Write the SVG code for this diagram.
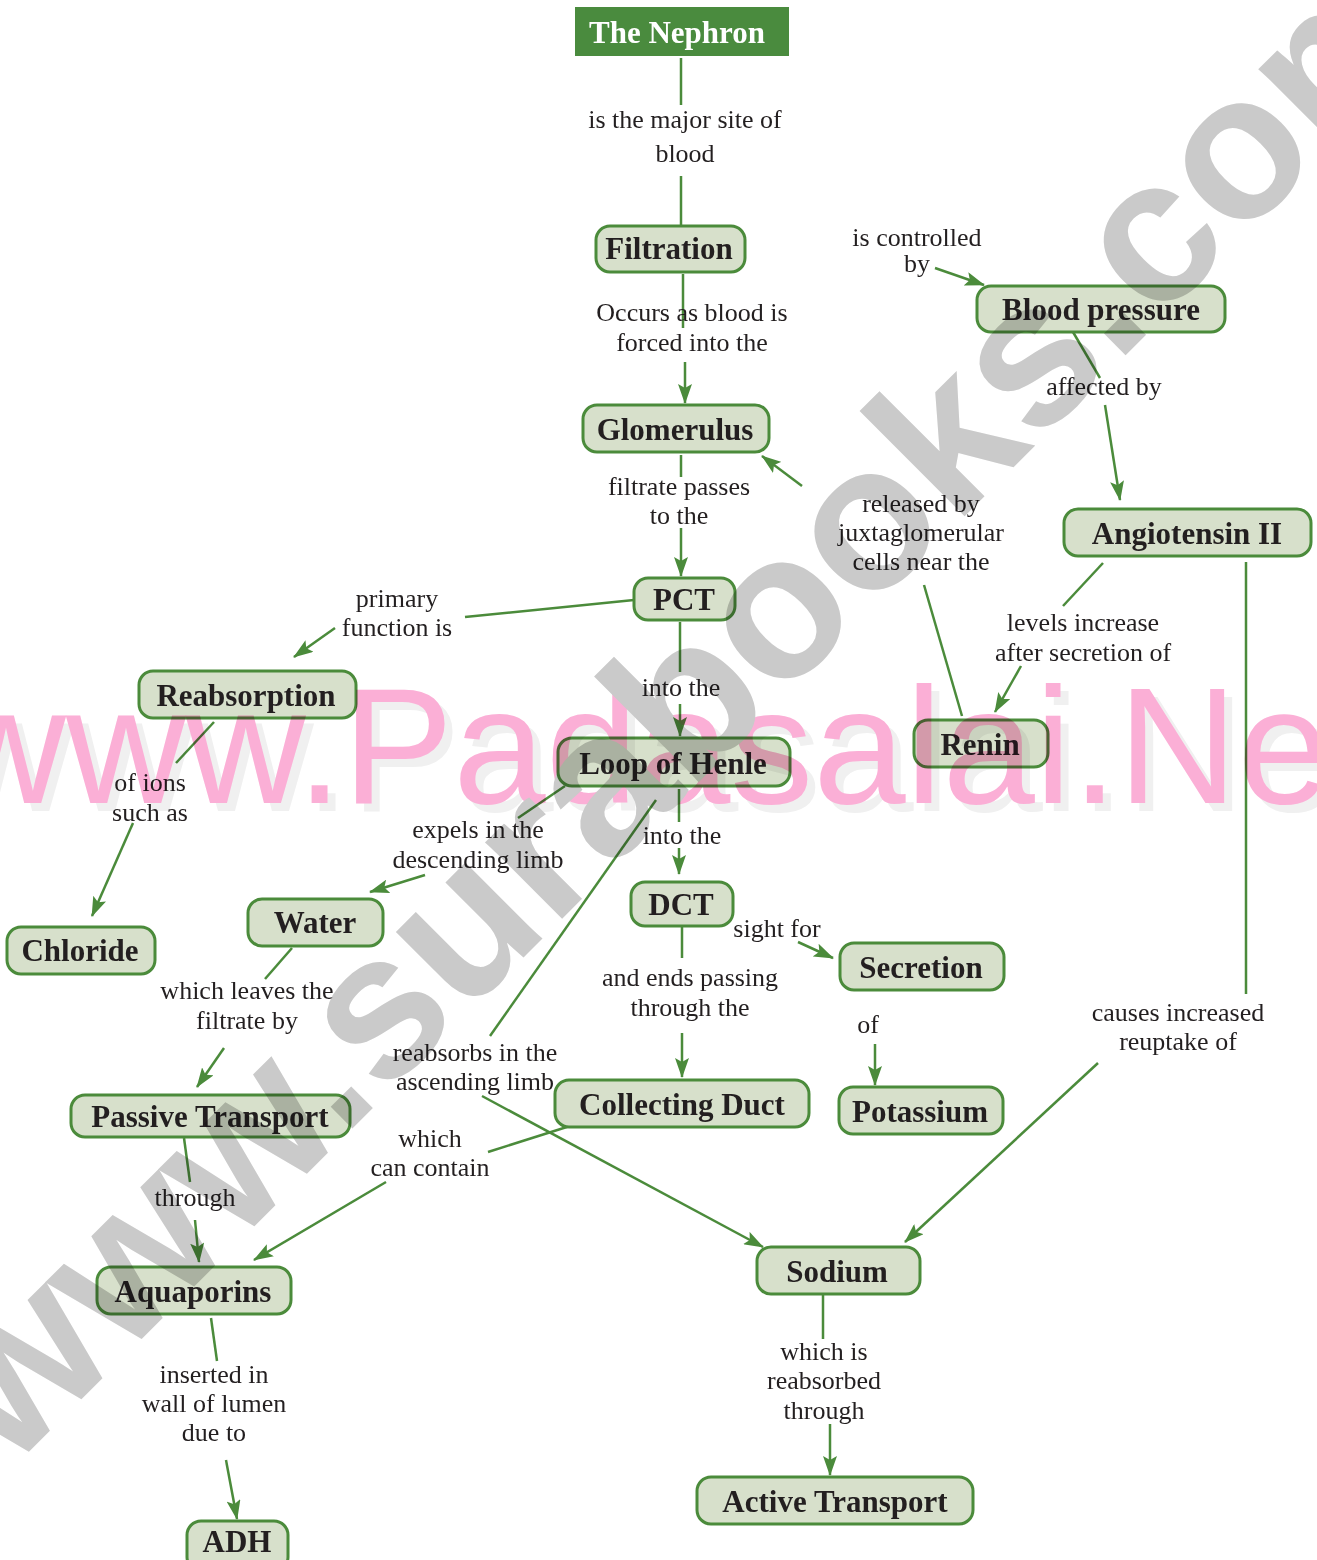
<svg xmlns="http://www.w3.org/2000/svg" width="1317" height="1560" viewBox="0 0 1317 1560">
  <style>
    .nd { fill: #d7e0cb; stroke: #4b8b3b; stroke-width: 3; }
    .nt { font-family: "Liberation Serif", "Times New Roman", serif; font-weight: bold; font-size: 31px; fill: #231f20; text-anchor: middle; }
    .lb { font-family: "Liberation Serif", "Times New Roman", serif; font-size: 26px; fill: #231f20; text-anchor: middle; }
    .cn { stroke: #4b8b3b; stroke-width: 2.5; fill: none; }
    .wm { mix-blend-mode: multiply; }
  </style>
  <defs>
    <marker id="ah" markerUnits="userSpaceOnUse" markerWidth="20" markerHeight="14" refX="19" refY="7" orient="auto">
      <path d="M0,0 L20,7 L0,14 L4,7 z" fill="#4b8b3b"/>
    </marker>
  </defs>
  <rect width="1317" height="1560" fill="#ffffff"/>

  <!-- connectors -->
  <g id="connectors" class="cn">
    <path d="M681,58 V105"/>
    <path d="M681,176 V226"/>
    <path d="M683,274 V328"/>
    <path d="M685,362 V403" marker-end="url(#ah)"/>
    <path d="M681,455 V477"/>
    <path d="M681,528 V576" marker-end="url(#ah)"/>
    <path d="M802,486 L762,456" marker-end="url(#ah)"/>
    <path d="M962,716 L924,585"/>
    <path d="M634,600 L465,617"/>
    <path d="M335,628 L294,657" marker-end="url(#ah)"/>
    <path d="M680,622 V672"/>
    <path d="M680,704 V736" marker-end="url(#ah)"/>
    <path d="M214,722 L176,763"/>
    <path d="M133,823 L92,916" marker-end="url(#ah)"/>
    <path d="M565,786 L518,818"/>
    <path d="M425,875 L370,892" marker-end="url(#ah)"/>
    <path d="M679,789 V822"/>
    <path d="M679,848 V874" marker-end="url(#ah)"/>
    <path d="M656,800 L490,1036"/>
    <path d="M482,1096 L763,1247" marker-end="url(#ah)"/>
    <path d="M682,926 V958"/>
    <path d="M682,1033 V1077" marker-end="url(#ah)"/>
    <path d="M798,942 L833,958" marker-end="url(#ah)"/>
    <path d="M875,1044 V1085" marker-end="url(#ah)"/>
    <path d="M292,948 L265,979"/>
    <path d="M224,1048 L197,1087" marker-end="url(#ah)"/>
    <path d="M184,1138 L190,1182"/>
    <path d="M195,1220 L199,1262" marker-end="url(#ah)"/>
    <path d="M570,1126 L488,1152"/>
    <path d="M386,1182 L254,1260" marker-end="url(#ah)"/>
    <path d="M211,1318 L217,1361"/>
    <path d="M226,1460 L237,1519" marker-end="url(#ah)"/>
    <path d="M1073,332 L1100,378"/>
    <path d="M1105,405 L1120,500" marker-end="url(#ah)"/>
    <path d="M935,268 L984,285" marker-end="url(#ah)"/>
    <path d="M1103,563 L1063,606"/>
    <path d="M1021,666 L995,712" marker-end="url(#ah)"/>
    <path d="M1246,562 V994"/>
    <path d="M1098,1063 L905,1242" marker-end="url(#ah)"/>
    <path d="M823,1290 V1339"/>
    <path d="M830,1424 V1475" marker-end="url(#ah)"/>
  </g>

  <!-- link labels -->
  <g id="labels" class="lb">
    <text x="685" y="128">is the major site of</text>
    <text x="685" y="162">blood</text>
    <text x="917" y="246">is controlled</text>
    <text x="917" y="272">by</text>
    <text x="692" y="321">Occurs as blood is</text>
    <text x="692" y="351">forced into the</text>
    <text x="1104" y="395">affected by</text>
    <text x="679" y="495">filtrate passes</text>
    <text x="679" y="524">to the</text>
    <text x="921" y="512">released by</text>
    <text x="921" y="541">juxtaglomerular</text>
    <text x="921" y="570">cells near the</text>
    <text x="397" y="607">primary</text>
    <text x="397" y="636">function is</text>
    <text x="1083" y="631">levels increase</text>
    <text x="1083" y="661">after secretion of</text>
    <text x="681" y="696">into the</text>
    <text x="150" y="791">of ions</text>
    <text x="150" y="821">such as</text>
    <text x="478" y="838">expels in the</text>
    <text x="478" y="868">descending limb</text>
    <text x="682" y="844">into the</text>
    <text x="777" y="937">sight for</text>
    <text x="690" y="986">and ends passing</text>
    <text x="690" y="1016">through the</text>
    <text x="247" y="999">which leaves the</text>
    <text x="247" y="1029">filtrate by</text>
    <text x="868" y="1033">of</text>
    <text x="1178" y="1021">causes increased</text>
    <text x="1178" y="1050">reuptake of</text>
    <text x="475" y="1061">reabsorbs in the</text>
    <text x="475" y="1090">ascending limb</text>
    <text x="430" y="1147">which</text>
    <text x="430" y="1176">can contain</text>
    <text x="195" y="1206">through</text>
    <text x="824" y="1360">which is</text>
    <text x="824" y="1389">reabsorbed</text>
    <text x="824" y="1419">through</text>
    <text x="214" y="1383">inserted in</text>
    <text x="214" y="1412">wall of lumen</text>
    <text x="214" y="1441">due to</text>
  </g>

  <!-- nodes -->
  <g id="nephron">
    <rect x="575" y="7" width="214" height="49" fill="#4a8b3e"/>
    <text class="nt" x="677" y="43" style="fill:#ffffff">The Nephron</text>
  </g>
  <g id="filtration"><rect class="nd" x="596" y="226" width="149" height="46" rx="14"/><text class="nt" x="669" y="259">Filtration</text></g>
  <g id="glomerulus"><rect class="nd" x="583" y="405" width="186" height="47" rx="14"/><text class="nt" x="675" y="440">Glomerulus</text></g>
  <g id="pct"><rect class="nd" x="634" y="578" width="101" height="42" rx="14"/><text class="nt" x="684" y="610">PCT</text></g>
  <g id="blood-pressure"><rect class="nd" x="977" y="286" width="248" height="46" rx="14"/><text class="nt" x="1101" y="320">Blood pressure</text></g>
  <g id="angiotensin"><rect class="nd" x="1064" y="509" width="247" height="47" rx="14"/><text class="nt" x="1187" y="544">Angiotensin II</text></g>
  <g id="reabsorption"><rect class="nd" x="139" y="671" width="217" height="47" rx="14"/><text class="nt" x="246" y="706">Reabsorption</text></g>
  <g id="loop-of-henle"><rect class="nd" x="558" y="738" width="232" height="48" rx="14"/><text class="nt" x="673" y="774">Loop of Henle</text></g>
  <g id="renin"><rect class="nd" x="914" y="720" width="134" height="47" rx="14"/><text class="nt" x="980" y="755">Renin</text></g>
  <g id="water"><rect class="nd" x="248" y="899" width="135" height="47" rx="14"/><text class="nt" x="315" y="933">Water</text></g>
  <g id="chloride"><rect class="nd" x="7" y="927" width="148" height="47" rx="14"/><text class="nt" x="80" y="961">Chloride</text></g>
  <g id="dct"><rect class="nd" x="631" y="882" width="102" height="44" rx="14"/><text class="nt" x="681" y="915">DCT</text></g>
  <g id="secretion"><rect class="nd" x="840" y="943" width="164" height="47" rx="14"/><text class="nt" x="921" y="978">Secretion</text></g>
  <g id="passive-transport"><rect class="nd" x="71" y="1095" width="279" height="42" rx="14"/><text class="nt" x="210" y="1127">Passive Transport</text></g>
  <g id="collecting-duct"><rect class="nd" x="555" y="1080" width="254" height="47" rx="14"/><text class="nt" x="682" y="1115">Collecting Duct</text></g>
  <g id="potassium"><rect class="nd" x="839" y="1087" width="164" height="47" rx="14"/><text class="nt" x="920" y="1122">Potassium</text></g>
  <g id="aquaporins"><rect class="nd" x="97" y="1267" width="194" height="47" rx="14"/><text class="nt" x="193" y="1302">Aquaporins</text></g>
  <g id="sodium"><rect class="nd" x="757" y="1247" width="163" height="47" rx="14"/><text class="nt" x="837" y="1282">Sodium</text></g>
  <g id="active-transport"><rect class="nd" x="697" y="1477" width="276" height="47" rx="14"/><text class="nt" x="835" y="1512">Active Transport</text></g>
  <g id="adh"><rect class="nd" x="187" y="1521" width="101" height="50" rx="14"/><text class="nt" x="237" y="1552">ADH</text></g>

  <!-- page watermarks -->
  <g class="wm" style="font-family:'Liberation Sans', Arial, sans-serif">
    <text x="-46" y="811" font-size="166" fill="#f0f0f0">www.Padasalai.Net</text>
    <text x="-54" y="803" font-size="166" fill="#fbafd6">www.Padasalai.Net</text>
    <text transform="translate(693,710) rotate(-45)" x="0" y="55" font-size="205" font-weight="bold" fill="#cacaca" text-anchor="middle">www.surabooks.com</text>
  </g>
</svg>
